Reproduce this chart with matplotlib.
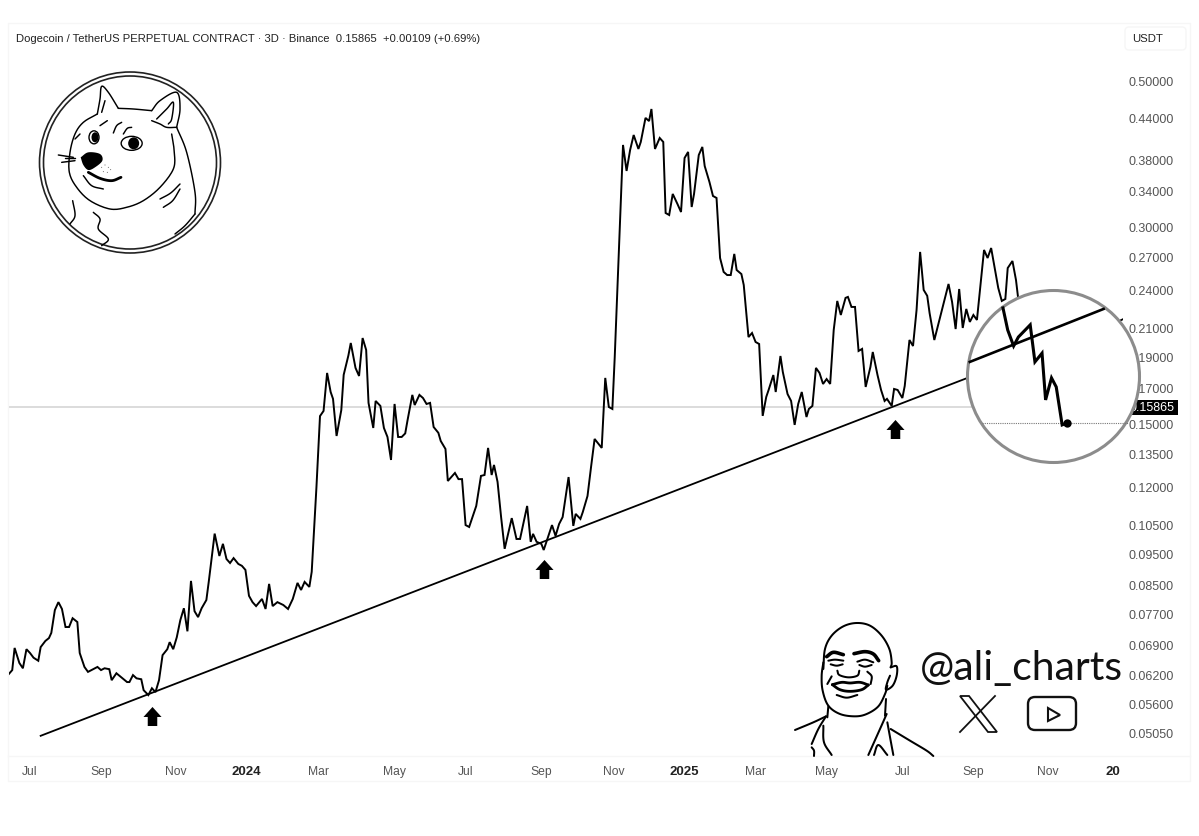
import numpy as np
import matplotlib
matplotlib.use("Agg")
import matplotlib.pyplot as plt
import matplotlib.dates as mdates
from matplotlib.patches import Circle, Rectangle, FancyBboxPatch, Polygon, Ellipse
from matplotlib.path import Path
from matplotlib.ticker import FixedLocator, NullLocator, NullFormatter, FixedFormatter
from matplotlib.transforms import Affine2D

W, H = 1199, 837
BASE = mdates.date2num(np.datetime64("2023-07-01"))

# ---- data: days since 2023-07-01, DOGE price (USDT) ----
price_days = [
    -18,-15,-13,-9,-6,-3,0,3,7,9,
    13,16,18,21,24,27,30,33,36,40,
    42,46,49,52,57,60,63,67,69,73,
    82,84,87,90,94,96,100,103,106,109,
    112,116,118,121,124,127,130,133,136,139,
    142,145,149,151,154,156,160,163,166,169,
    172,176,179,182,185,188,191,196,199,202,
    205,209,214,218,222,226,229,232,236,238,
    242,245,248,251,254,256,259,263,265,269,
    271,275,278,281,284,286,290,292,296,299,
    302,305,308,311,314,317,319,323,325,329,
    332,335,338,341,345,347,351,353,359,362,
    365,368,371,377,381,384,387,390,392,395,
    398,401,405,407,411,414,420,423,425,428,
    432,434,438,441,444,447,450,455,459,461,
    465,467,471,474,477,483,486,489,492,494,
    501,504,507,510,514,516,520,523,525,528,
    532,535,537,540,543,547,550,553,556,559,
    561,565,568,570,574,577,580,583,586,589,
    592,595,597,601,603,607,610,613,616,619,
    622,624,628,630,634,636,640,643,646,649,
    652,656,658,661,664,667,670,673,676,679,
    682,685,689,691,694,697,700,703,706,710,
    712,716,719,722,724,728,730,733,737,739,
    743,746,749,752,755,758,760,764,776,779,
    782,785,788,791,794,797,800,806,809,812,
    818,821,824,826,830,833,835,
]
prices = [
    .0621,.0630,.0681,.0646,.0634,.0678,.0669,.0658,.0651,.0683,
    .0698,.0705,.0718,.0778,.0800,.0781,.0733,.0733,.0756,.0746,
    .0669,.0637,.0626,.0630,.0637,.0630,.0634,.0632,.0608,.0623,
    .0604,.0604,.0619,.0612,.0610,.0587,.0577,.0591,.0583,.0608,
    .0664,.0678,.0695,.0678,.0707,.0751,.0783,.0722,.0862,.0775,
    .0759,.0783,.0806,.0859,.0951,.1018,.0941,.0982,.0931,.0918,
    .0934,.0915,.0909,.0896,.0818,.0800,.0789,.0809,.0781,.0853,
    .0789,.0800,.0792,.0781,.0809,.0856,.0835,.0859,.0844,.0890,
    .1199,.1539,.1567,.1791,.1675,.1635,.1435,.1572,.1779,.1905,
    .1990,.1823,.1772,.2025,.1942,.1612,.1476,.1623,.1595,.1476,
    .1430,.1319,.1606,.1430,.1430,.1448,.1518,.1658,.1600,.1658,
    .1640,.1606,.1612,.1481,.1451,.1410,.1371,.1225,.1260,.1233,
    .1233,.1049,.1042,.1122,.1247,.1251,.1376,.1251,.1296,.1221,
    .1079,.0965,.1038,.1075,.0999,.0999,.1122,.0989,.1017,.0989,
    .0982,.0961,.1010,.1049,.1010,.1053,.1079,.1242,.1046,.1091,
    .1072,.1098,.1162,.1287,.1420,.1376,.1760,.1589,.1578,.1894,
    .3993,.3644,.3923,.4135,.3937,.4035,.4391,.4343,.4531,.3937,
    .4092,.4035,.3143,.3121,.3361,.3244,.3154,.3814,.3896,.3210,
    .3361,.3854,.3965,.3708,.3506,.3337,.3314,.2683,.2555,.2527,
    .2527,.2722,.2572,.2536,.2440,.2032,.2061,.1997,.1983,.1540,
    .1646,.1687,.1778,.1675,.1901,.1797,.1663,.1623,.1492,.1606,
    .1675,.1534,.1578,.1595,.1823,.1791,.1723,.1753,.1723,.2083,
    .2307,.2196,.2332,.2340,.2259,.2259,.1935,.1949,.1705,.1829,
    .1928,.1778,.1687,.1623,.1635,.1595,.1693,.1687,.1640,.1711,
    .2011,.1969,.2235,.2741,.2398,.2349,.2211,.2011,.2449,.2299,
    .2090,.2406,.2098,.2243,.2143,.2196,.2158,.2760,.2683,.2779,
    .2415,.2307,.2323,.2590,.2655,.2483,.2315,
]
# magnified view inside the circle
zoom_days = [822,826,831,835,845,849,855,858,863,867,872,876]
zoom_prices = [.2251,.2083,.1969,.2032,.2121,.1862,.1920,.1629,.1760,.1705,.1492,.1502]
zoom_last_days = [804, 928]
zoom_last_price = 0.1502
# trend lines
trend_days = [9, 792]
trend_prices = [0.0500, 0.1760]
zoom_trend_days = [794, 907]
zoom_trend_prices = [0.1862, 0.2243]
stub_days = [919, 923]
stub_prices = [0.2145, 0.2162]
# arrows
arrow_days = [103, 434, 731]
arrow_prices = [0.0537, 0.0899, 0.1472]
last_price = 0.15865
# axis labels
y_ticks = [0.5,0.44,0.38,0.34,0.30,0.27,0.24,0.21,0.19,0.17,0.15,0.135,0.12,0.105,0.095,0.085,0.077,0.069,0.062,0.056,0.0505]
x_tick_days = [0,60,123,183,244,308,368,432,493,553,613,673,737,797,860,915]
x_tick_labels = ["Jul","Sep","Nov","2024","Mar","May","Jul","Sep","Nov","2025","Mar","May","Jul","Sep","Nov","20"]
header = "Dogecoin / TetherUS PERPETUAL CONTRACT · 3D · Binance  0.15865  +0.00109 (+0.69%)"

def d2n(days):
    return BASE + np.asarray(days, dtype=float)

UI = "Liberation Sans"
fig = plt.figure(figsize=(W/100, H/100), dpi=100, facecolor="white")
ax = fig.add_axes([9/W, 1-757/H, (1123-9)/W, (757-25)/H])
ax.patch.set_alpha(0)
for s in ax.spines.values():
    s.set_visible(False)
px = Affine2D().scale(1/W, -1/H).translate(0, 1) + fig.transFigure

# frame
ax.add_patch(Rectangle((8,24),1182,758,fill=False,ec="#f6f6f6",lw=1,transform=px,clip_on=False,zorder=0.5))
ax.plot([8,1190],[757,757],color="#f6f6f6",lw=1,transform=px,clip_on=False,zorder=0.5)
ax.add_patch(FancyBboxPatch((1127,30),57,19,boxstyle="round,pad=2,rounding_size=4",fc="white",ec="#f6f6f6",lw=1,transform=px,clip_on=False,zorder=0.6))
ax.text(1132,39.5,"USDT",transform=px,fontsize=8.2,family=UI,color="#222222",va="center",ha="left",clip_on=False)
ax.text(16,39.5,header,transform=px,fontsize=8.1,family=UI,color="#222222",va="center",ha="left",clip_on=False)

# main
ax.axhline(last_price,color="#d2d2d2",lw=1.1,zorder=1)
ax.plot(d2n(price_days),prices,color="black",lw=1.4,solid_joinstyle="miter",zorder=3)
ax.plot(d2n(trend_days),trend_prices,color="black",lw=1.3,zorder=3)
ax.plot(d2n(stub_days),stub_prices,color="black",lw=1.3,zorder=3)
arrow_marker = Path([(0,1),(.95,-.05),(.5,-.05),(.5,-1),(-.5,-1),(-.5,-.05),(-.95,-.05),(0,1)],closed=True)
ax.plot(d2n(arrow_days),arrow_prices,ls="",marker=arrow_marker,ms=13.7,color="black",mew=0,zorder=3)

# last-price tag
ax.add_patch(Rectangle((1124,401),54,14.5,fc="black",ec="none",transform=px,clip_on=False,zorder=4))
ax.text(1129,408.5,"0.15865",transform=px,fontsize=9,family=UI,color="white",va="center",ha="left",clip_on=False,zorder=4.1)

# circle + magnified view
ax.add_patch(Circle((1053.5,377.5),86,fc="white",ec="#8c8c8c",lw=2.2,transform=px,clip_on=False,zorder=5))
ax.plot(d2n(zoom_last_days),[zoom_last_price]*2,color="#777777",lw=.8,ls=(0,(1,1)),zorder=6,clip_on=False)
ax.plot(d2n(zoom_trend_days),zoom_trend_prices,color="black",lw=1.9,zorder=6)
ax.plot(d2n(zoom_days),zoom_prices,color="black",lw=2.2,solid_joinstyle="miter",zorder=6)
ax.plot(d2n(zoom_days[-1:]),zoom_prices[-1:],ls="",marker="o",ms=6,color="black",mew=0,zorder=7)

# watermark
ax.text(1122.5,680,"@ali_charts",transform=px,fontsize=29.5,family="Lato",weight="normal",color="#111111",ha="right",va="baseline",clip_on=False,zorder=3)

def smooth(pts, n=10):
    p = np.asarray(pts, float)
    if len(p) < 3:
        return p
    q = np.vstack([2*p[0]-p[1], p, 2*p[-1]-p[-2]])
    out = []
    for i in range(1, len(q)-2):
        t = np.linspace(0, 1, n, endpoint=False)[:, None]
        a, b, c, d = q[i-1], q[i], q[i+1], q[i+2]
        out.append(.5*((2*b)+(-a+c)*t+(2*a-5*b+4*c-d)*t**2+(-a+3*b-3*c+d)*t**3))
    out.append(p[-1:])
    return np.vstack(out)

def stroke(pts, ox, oy, lw=1.2, c="black", z=3.5, s=3.0):
    xy = smooth(pts)
    ax.plot(ox+xy[:,0]/s, oy+xy[:,1]/s, color=c, lw=lw, transform=px, clip_on=False,
            solid_capstyle="round", solid_joinstyle="round", zorder=z)

def blob(pts, ox, oy, z=3.5, s=3.0, fc="black"):
    xy = smooth(pts + pts[:1])
    ax.fill(ox+xy[:,0]/s, oy+xy[:,1]/s, color=fc, transform=px, clip_on=False, zorder=z, lw=0)

# ---- doge badge ----
ox, oy = 20, 60
for r in (90.5, 86.5):
    ax.add_patch(Circle((130,163.5),r,fill=False,ec="#222222",lw=1.2,transform=px,clip_on=False,zorder=3.5))
doge_lines = [
    [(232,165),(240,120),(245,82),(265,100),(295,148)],
    [(245,160),(255,125)],
    [(295,148),(340,150),(395,155)],
    [(395,155),(420,125),(470,100),(480,150),(470,205)],
    [(395,185),(420,195),(440,205),(470,205)],
    [(410,180),(440,150),(460,130),(455,180),(445,195)],
    [(232,165),(190,190),(165,225),(150,280),(148,340),(170,385),(210,425),(270,450),(320,445),(370,425),(420,385),(460,330),(463,280),(455,225)],
    [(470,205),(500,280),(525,400),(525,465)],
    [(525,465),(495,500),(465,525)],
    [(158,425),(165,470),(150,495)],
    [(220,460),(240,480),(235,510),(265,540),(245,560)],
    [(190,350),(215,380),(250,390)],
    [(115,288),(160,295)],[(125,310),(165,305)],[(135,298),(165,298)],
    [(240,200),(262,185)],[(280,222),(290,200),(305,190)],[(310,225),(322,208),(335,205)],
    [(420,420),(452,402),(480,375)],[(430,445),(458,425),(480,390)],
    [(165,240),(180,225)],
]
for pts in doge_lines:
    stroke(pts, ox, oy, lw=1.05)
stroke([(205,340),(240,358),(275,365),(303,355)], ox, oy, lw=2.0)
blob([(182,295),(205,280),(240,285),(247,305),(225,325),(205,333),(190,318)], ox, oy)
for sx, sy in [(245,325),(255,318),(265,325),(250,338),(262,340),(272,332)]:
    ax.add_patch(Circle((ox+sx/3,oy+sy/3),.45,fc="#333333",ec="none",transform=px,clip_on=False,zorder=3.5))
ax.add_patch(Ellipse((ox+222/3,oy+235/3),10,13,fill=False,ec="black",lw=1,transform=px,clip_on=False,zorder=3.5))
ax.add_patch(Ellipse((ox+225/3,oy+235/3),7,10,fc="black",ec="none",transform=px,clip_on=False,zorder=3.5))
ax.add_patch(Ellipse((ox+335/3,oy+253/3),21,14,fill=False,ec="black",lw=1,transform=px,clip_on=False,zorder=3.5))
ax.add_patch(Ellipse((ox+341/3,oy+253/3),11,12,fc="black",ec="none",transform=px,clip_on=False,zorder=3.5))

# ---- caricature ----
ox, oy = 800, 620
face_lines = [
    [(70,150),(75,90),(95,50),(130,22),(170,12),(210,20),(245,50),(268,90),(275,130),(272,145)],
    [(70,130),(65,170),(68,215),(85,260),(120,285),(165,292),(200,285),(235,262),(255,225),(262,200)],
    [(272,145),(290,142),(290,170),(278,200),(258,212),(262,190),(270,170)],
    [(85,125),(105,122),(130,125)],[(92,136),(110,140),(128,136)],
    [(172,128),(195,122),(220,130)],[(178,138),(195,143),(215,138)],
    [(112,155),(118,168),(145,175),(172,170),(178,155)],
    [(110,228),(140,236),(172,228)],
    [(82,195),(95,172)],[(212,195),(215,172),(202,158)],
    [(85,262),(82,295)],[(258,240),(255,290)],
    [(-15,333),(40,310),(78,292)],
    [(78,292),(55,330),(35,375)],
    [(70,320),(72,370),(95,408)],
    [(260,285),(240,330),(205,408)],
    [(262,310),(272,365),(280,408)],
    [(272,330),(330,365),(380,395),(400,411)],
    [(222,408),(235,378),(262,408)],
    [(35,385),(42,395),(42,411)],
]
for pts in face_lines:
    stroke(pts, ox, oy, lw=1.45)
stroke([(80,113),(100,100),(130,107)], ox, oy, lw=2.6)
stroke([(162,104),(195,98),(220,105),(236,125)], ox, oy, lw=2.6)
stroke([(97,197),(125,190),(150,192),(180,190),(205,198)], ox, oy, lw=2.0)
stroke([(97,197),(120,212),(150,217),(185,212),(205,198)], ox, oy, lw=2.0)

# ---- X logo ----
ax.add_patch(Polygon([(960,697),(969,697),(997,733),(988,733)],closed=True,fill=False,ec="#111111",lw=1.3,transform=px,clip_on=False,zorder=3.5))
ax.plot([995,960],[697,733],color="#111111",lw=1.3,transform=px,clip_on=False,zorder=3.5)
# ---- play logo ----
ax.add_patch(FancyBboxPatch((1031,701),42,27,boxstyle="round,pad=3,rounding_size=7",fill=False,ec="#111111",lw=1.7,transform=px,clip_on=False,zorder=3.5))
ax.add_patch(Polygon([(1048,709),(1048,722),(1060,716)],closed=True,fill=False,ec="#111111",lw=1.5,transform=px,clip_on=False,zorder=3.5))

# axes
ax.set_yscale("log")
ax.set_ylim(0.04641*1.0035, 0.6088*1.0035)
ax.set_xlim(BASE-17.74, BASE+923.4)
ax.yaxis.tick_right()
ax.yaxis.set_major_locator(FixedLocator(y_ticks))
ax.yaxis.set_major_formatter(FixedFormatter([f"{v:.5f}" for v in y_ticks]))
ax.yaxis.set_minor_locator(NullLocator())
ax.yaxis.set_minor_formatter(NullFormatter())
ax.xaxis.set_major_locator(FixedLocator(list(d2n(x_tick_days))))
ax.xaxis.set_major_formatter(FixedFormatter(x_tick_labels))
ax.tick_params(axis="both",length=0)
ax.tick_params(axis="y",pad=4.2)
ax.tick_params(axis="x",pad=6.5)
for lab in ax.get_yticklabels():
    lab.set(family=UI,fontsize=9,color="#555555")
for lab in ax.get_xticklabels():
    bold = lab.get_text() in ("2024","2025","20")
    lab.set(family=UI,fontsize=9.5 if bold else 8.7,color="#222222" if bold else "#555555",weight="bold" if bold else "normal")

fig.savefig("out.png",dpi=100,facecolor="white")
